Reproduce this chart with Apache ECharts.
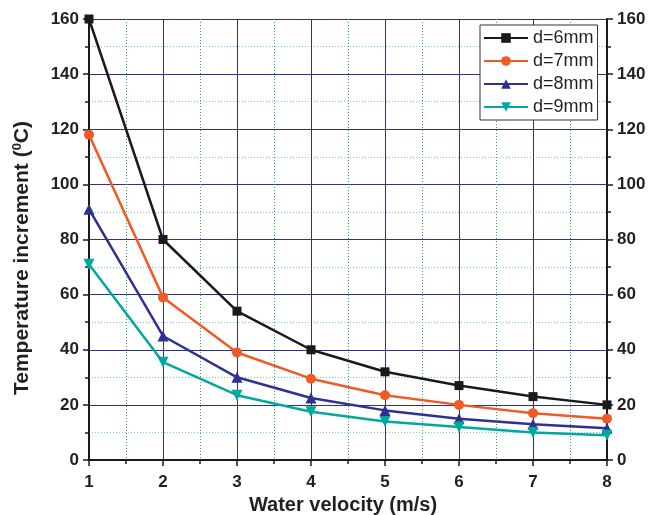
<!DOCTYPE html>
<html>
<head>
<meta charset="utf-8">
<script src="https://cdn.jsdelivr.net/npm/echarts@6/dist/echarts.min.js"></script>
<style>
  html, body { margin: 0; padding: 0; background: #fff; }
  #chart { width: 665px; height: 515px; }
</style>
</head>
<body>
<div id="chart"></div>
<script>
// water velocity (m/s)
var velocity = [1, 2, 3, 4, 5, 6, 7, 8];
// temperature increment for each diameter
var d6 = [160, 80, 54, 40, 32, 27, 23, 20];
var d7 = [118, 59, 39, 29.5, 23.5, 20, 17, 15];
var d8 = [91, 45, 30, 22.5, 18, 15, 13, 11.5];
var d9 = [71, 35.5, 23.5, 17.5, 14, 12, 10, 9];
var names = ['d=6mm', 'd=7mm', 'd=8mm', 'd=9mm'];

function pairs(ys) {
    return velocity.map(function (x, i) { return [x, ys[i]]; });
}

var myChart = echarts.init(document.getElementById('chart'));
var font = 'Liberation Sans, Arial, sans-serif';
var axisLine = {show: true, lineStyle: {color: '#1a1a1a', width: 2}};
var tickLbl = {fontFamily: font, fontWeight: 'bold', fontSize: 17, color: '#231f20'};

myChart.setOption({
    animation: false,
    grid: {left: 89, right: 58, top: 19, bottom: 55, outerBoundsMode: 'none'},
    legend: {
        orient: 'vertical',
        left: 480,
        top: 25,
        backgroundColor: '#fff',
        borderColor: '#333',
        borderWidth: 1,
        padding: [4, 4, 4, 3],
        itemGap: 5,
        itemWidth: 44,
        itemHeight: 12,
        textStyle: {fontFamily: font, fontSize: 18, color: '#231f20'},
        data: names
    },
    // y axis title, kept as text, placed a little below the plot centre as in the figure
    graphic: [{
        type: 'text',
        x: 22, y: 258,
        rotation: Math.PI / 2,
        style: {
            text: '{t|Temperature increment (}{s|0}{t|C)}',
            align: 'center',
            verticalAlign: 'middle',
            rich: {
                t: {fontFamily: font, fontWeight: 'bold', fontSize: 21, fill: '#231f20'},
                s: {fontFamily: font, fontWeight: 'bold', fontSize: 13, fill: '#231f20', verticalAlign: 'top', padding: [0, 0, 9, 0]}
            }
        }
    }],
    xAxis: [{
        type: 'value', min: 1, max: 8, interval: 1,
        name: 'Water velocity (m/s)', nameLocation: 'middle', nameGap: 32,
        nameTextStyle: {fontFamily: font, fontWeight: 'bold', fontSize: 20, color: '#231f20', padding: [0, 10, 0, 0]},
        axisLine: axisLine,
        axisTick: {show: true, inside: false, length: 6, lineStyle: {color: '#1a1a1a', width: 1.5}},
        minorTick: {show: true, splitNumber: 2, length: 4, lineStyle: {color: '#1a1a1a', width: 1.5}},
        axisLabel: Object.assign({margin: 14}, tickLbl),
        splitLine: {show: true, lineStyle: {color: '#2e3192', width: 1}},
        minorSplitLine: {show: true, lineStyle: {color: '#2bb34a', type: [1, 2], width: 1}}
    }, {
        type: 'value', min: 1, max: 8, interval: 1, position: 'top',
        axisLine: axisLine,
        axisTick: {show: true, inside: true, length: 6, lineStyle: {color: '#1a1a1a', width: 1.5}},
        minorTick: {show: true, splitNumber: 2, length: 4, lineStyle: {color: '#1a1a1a', width: 1.5}},
        axisLabel: {show: false},
        splitLine: {show: false}
    }],
    yAxis: [{
        type: 'value', min: 0, max: 160, interval: 20,
        axisLine: axisLine,
        axisTick: {show: true, inside: false, length: 6, lineStyle: {color: '#1a1a1a', width: 1.5}},
        minorTick: {show: true, splitNumber: 2, length: 4, lineStyle: {color: '#1a1a1a', width: 1.5}},
        axisLabel: Object.assign({margin: 10}, tickLbl),
        splitLine: {show: true, lineStyle: {color: '#2e3192', width: 1}},
        minorSplitLine: {show: true, lineStyle: {color: '#6dcfd6', type: [1, 2], width: 1}}
    }, {
        type: 'value', min: 0, max: 160, interval: 20, position: 'right',
        axisLine: axisLine,
        axisTick: {show: true, inside: false, length: 6, lineStyle: {color: '#1a1a1a', width: 1.5}},
        minorTick: {show: true, splitNumber: 2, length: 4, lineStyle: {color: '#1a1a1a', width: 1.5}},
        axisLabel: Object.assign({margin: 10}, tickLbl),
        splitLine: {show: false}
    }],
    series: [
        {name: names[0], type: 'line', data: pairs(d6), symbol: 'rect', symbolSize: 9,
         color: '#1a1a1a', lineStyle: {width: 2.5}},
        {name: names[1], type: 'line', data: pairs(d7), symbol: 'circle', symbolSize: 10,
         color: '#f15a24', lineStyle: {width: 2.5}},
        {name: names[2], type: 'line', data: pairs(d8), symbol: 'triangle', symbolSize: 11,
         color: '#2e3192', lineStyle: {width: 2.5}},
        {name: names[3], type: 'line', data: pairs(d9), symbol: 'triangle', symbolRotate: 180, symbolSize: 11,
         color: '#00a99d', lineStyle: {width: 2.5}}
    ]
});
</script>
</body>
</html>
